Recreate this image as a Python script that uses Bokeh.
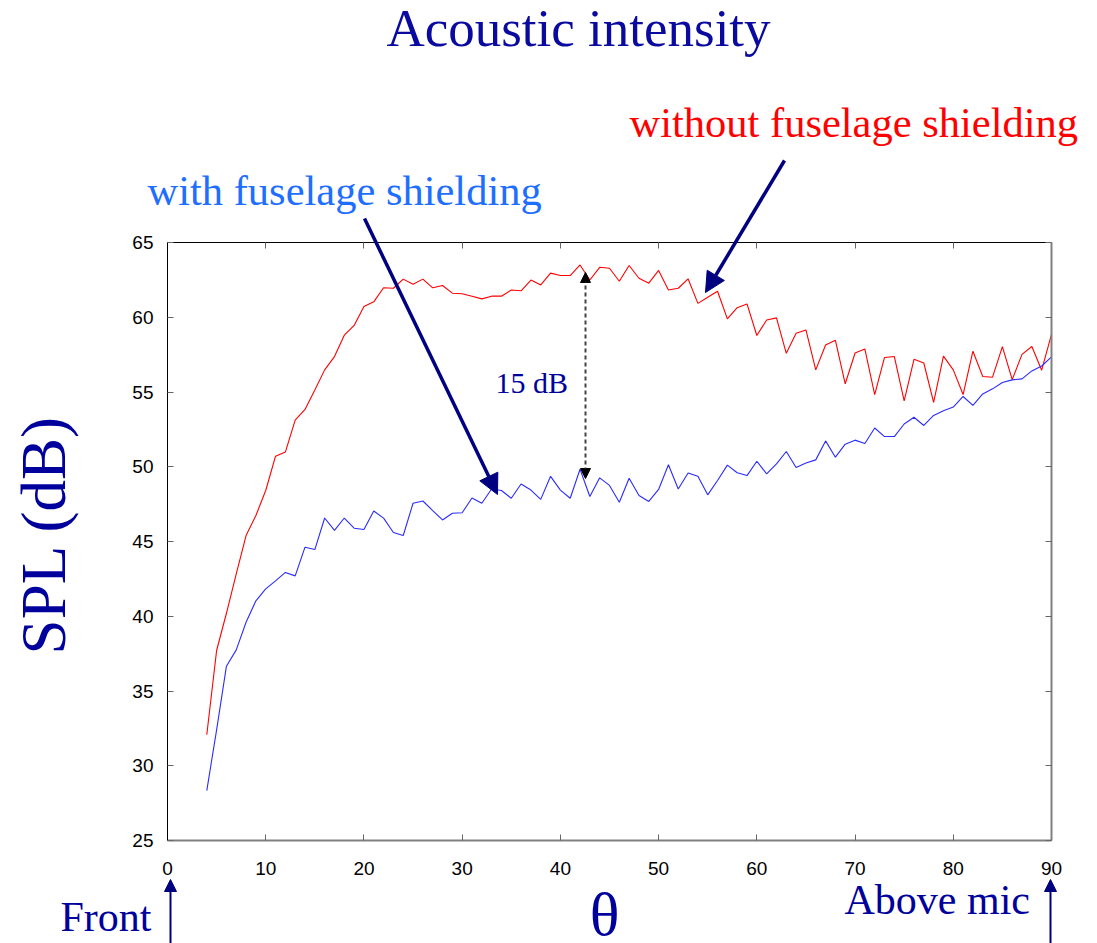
import math
from bokeh.plotting import figure
from bokeh.models import Range1d, LinearAxis, Label, Arrow, NormalHead, FixedTicker
from bokeh.embed import file_html
from bokeh.resources import INLINE

# ---- data ----
theta = list(range(4, 91))
spl_without = [
    32.07, 37.71, 40.2, 42.84, 45.40, 46.74, 48.41, 50.71, 50.98, 53.12,
    53.83, 55.14, 56.48, 57.37, 58.80, 59.45, 60.72, 61.03, 61.97, 61.94,
    62.55, 62.21, 62.55, 61.97, 62.12, 61.61, 61.57, 61.41, 61.23, 61.41,
    61.41, 61.82, 61.77, 62.49, 62.16, 62.95, 62.79, 62.79, 63.50, 62.49,
    63.34, 63.28, 62.41, 63.46, 62.61, 62.28, 63.13, 61.82, 61.94, 62.57,
    60.93, 61.34, 61.74, 59.89, 60.64, 60.89, 58.78, 59.82, 59.96, 57.59,
    58.93, 59.15, 56.48, 58.14, 58.46, 55.55, 57.61, 57.87, 54.83, 57.31,
    57.37, 54.40, 57.19, 56.94, 54.30, 57.40, 56.48, 54.83, 57.73, 56.04,
    55.99, 58.04, 55.83, 57.52, 58.04, 56.46, 58.85,
]
spl_with = [
    28.34, 32.4, 36.66, 37.75, 39.60, 41.03, 41.83, 42.37, 42.93, 42.70,
    44.62, 44.46, 46.57, 45.74, 46.57, 45.89, 45.80, 47.04, 46.56, 45.60,
    45.40, 47.56, 47.71, 47.07, 46.44, 46.89, 46.92, 47.91, 47.56, 48.51,
    48.41, 47.89, 48.85, 48.44, 47.82, 49.36, 48.44, 47.89, 49.83, 48.01,
    49.26, 48.75, 47.62, 49.23, 48.08, 47.68, 48.48, 50.13, 48.51, 49.58,
    49.36, 48.12, 49.08, 50.11, 49.60, 49.41, 50.37, 49.52, 50.19, 51.02,
    49.95, 50.25, 50.46, 51.73, 50.64, 51.51, 51.78, 51.56, 52.59, 52.02,
    52.02, 52.86, 53.31, 52.76, 53.43, 53.74, 53.99, 54.70, 54.10, 54.87,
    55.21, 55.64, 55.81, 55.88, 56.41, 56.74, 57.35,
]
x_ticks = [0, 10, 20, 30, 40, 50, 60, 70, 80, 90]
y_ticks = [25, 30, 35, 40, 45, 50, 55, 60, 65]

# ---- layout: the frame covers the whole canvas; the chart box is placed in it ----
W, H = 1097, 943
BL, BT, BW, BH = 167, 242, 884, 598      # chart box in pixels
X0, X1, Y0, Y1 = 0, 90, 25, 65

def dx(px):
    return X0 + (px - BL) * (X1 - X0) / BW

def dy(py):
    return Y0 + (BT + BH - py) * (Y1 - Y0) / BH

p = figure(width=W, height=H,
           x_range=Range1d(dx(0), dx(W)), y_range=Range1d(dy(H), dy(0)),
           min_border=0, output_backend="svg", toolbar_location=None)
p.outline_line_color = None
p.grid.visible = False
p.background_fill_color = "white"
p.border_fill_color = "white"

def style_axis(ax, line_color, line_width):
    ax.major_tick_in = 6
    ax.major_tick_out = 0
    ax.minor_tick_in = 0
    ax.minor_tick_out = 0
    ax.major_tick_line_color = "#666666"
    ax.axis_line_color = line_color
    ax.axis_line_width = line_width
    ax.major_label_text_font = "Liberation Sans"
    ax.major_label_text_font_size = "19px"
    ax.major_label_text_color = "black"

xa = p.xaxis[0]
ya = p.yaxis[0]
xa.ticker = FixedTicker(ticks=x_ticks)
ya.ticker = FixedTicker(ticks=y_ticks)
xa.fixed_location = Y0
ya.fixed_location = X0
xa.bounds = (X0, X1)
ya.bounds = (Y0, Y1)
style_axis(xa, "#808080", 2)
style_axis(ya, "black", 1)
xa.major_label_standoff = 21
ya.major_label_standoff = 14

top = LinearAxis(ticker=FixedTicker(ticks=x_ticks), fixed_location=Y1, bounds=(X0, X1),
                 major_label_overrides={t: "" for t in x_ticks})
style_axis(top, "black", 1)
p.add_layout(top, "above")
right = LinearAxis(ticker=FixedTicker(ticks=y_ticks), fixed_location=X1, bounds=(Y0, Y1),
                   major_label_overrides={t: "" for t in y_ticks})
style_axis(right, "#808080", 2)
p.add_layout(right, "right")

# ---- curves ----
p.line(theta, spl_without, line_color="#FF0000", line_width=1.1)
p.line(theta, spl_with, line_color="#2B2BFF", line_width=1.1)

SERIF = "Liberation Serif"
NAVY = "#00009C"
BASE_SHIFT = 0.36   # empirical baseline correction (fraction of font size)

def label(px, py, text, size, color, align="left", angle=0.0):
    if angle:
        px = px - BASE_SHIFT * size
    else:
        py = py - BASE_SHIFT * size
    p.add_layout(Label(x=dx(px), y=dy(py), text=text, text_font=SERIF,
                       text_font_size=f"{size}px", text_color=color,
                       text_align=align, text_baseline="alphabetic",
                       angle=angle))

label(578, 47, "Acoustic intensity", 53, "#0A0AA0", align="center")
label(629, 137, "without fuselage shielding", 42.5, "#FF0000")
label(147, 205, "with fuselage shielding", 42.5, "#1E6EFF")
label(495, 393, "15 dB", 30, NAVY)
label(66, 534, "SPL (dB)", 63, NAVY, align="center", angle=math.pi / 2)
label(604, 936, "\u03b8", 62, NAVY, align="center")
label(60, 932, "Front", 42, NAVY)
label(844, 915, "Above mic", 42, NAVY)

def arrow(x1, y1, x2, y2, color, width, size, dash="solid", both=False, head_color=None):
    hc = head_color or color
    head = NormalHead(size=size, fill_color=hc, line_color=hc)
    kw = dict(end=head, x_start=dx(x1), y_start=dy(y1), x_end=dx(x2), y_end=dy(y2),
              line_color=color, line_width=width, line_dash=dash)
    if both:
        kw["start"] = NormalHead(size=size, fill_color=hc, line_color=hc)
    p.add_layout(Arrow(**kw))

arrow(364, 218, 497, 494, "#000080", 3.5, 20)
arrow(784, 160, 705, 292, "#000080", 3.5, 20)
arrow(585, 478, 585, 272, "#444444", 2, 10, dash="4 3", both=True, head_color="black")
arrow(170, 943, 170, 879, "#000080", 2, 12)
arrow(1050, 943, 1050, 879, "#000080", 2, 12)

open("out.html", "w").write(file_html(p, INLINE))
